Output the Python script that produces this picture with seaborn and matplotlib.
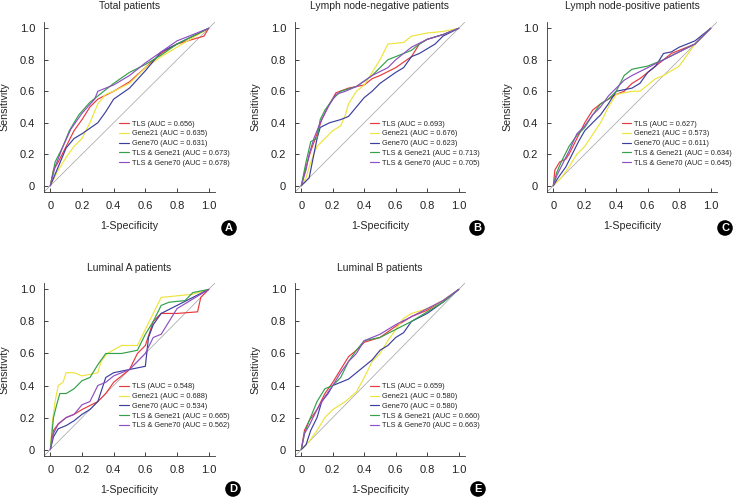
import seaborn as sns
import matplotlib.pyplot as plt
import pandas as pd

# ---------------- data ----------------
MODELS = ["TLS", "Gene21", "Gene70", "TLS & Gene21", "TLS & Gene70"]
COLORS = ["#e8383d", "#eee43c", "#3a3f9e", "#33a04a", "#8d4fc2"]
TICKS = [0, 0.2, 0.4, 0.6, 0.8, 1.0]
TICK_LABELS = ["0", "0.2", "0.4", "0.6", "0.8", "1.0"]

TITLES = ["Total patients", "Lymph node-negative patients", "Lymph node-positive patients",
          "Luminal A patients", "Luminal B patients"]
LETTERS = ["A", "B", "C", "D", "E"]

AUC_A = [0.656, 0.635, 0.631, 0.673, 0.678]
AUC_B = [0.693, 0.676, 0.623, 0.713, 0.705]
AUC_C = [0.627, 0.573, 0.611, 0.634, 0.645]
AUC_D = [0.548, 0.688, 0.534, 0.665, 0.562]
AUC_E = [0.659, 0.580, 0.580, 0.660, 0.663]

# panel A - total patients
A_TLS = [(0, 0), (0.02, 0.10), (0.05, 0.15), (0.10, 0.25), (0.15, 0.35), (0.20, 0.42), (0.25, 0.50),
         (0.30, 0.55), (0.40, 0.60), (0.50, 0.66), (0.60, 0.75), (0.70, 0.84), (0.80, 0.90), (0.90, 0.93),
         (0.97, 0.95), (1, 1)]
A_G21 = [(0, 0), (0.05, 0.10), (0.10, 0.18), (0.15, 0.25), (0.20, 0.30), (0.25, 0.40), (0.30, 0.52),
         (0.35, 0.58), (0.40, 0.60), (0.50, 0.65), (0.60, 0.75), (0.70, 0.82), (0.80, 0.88), (0.90, 0.94),
         (1, 1)]
A_G70 = [(0, 0), (0.05, 0.12), (0.10, 0.24), (0.15, 0.30), (0.20, 0.33), (0.30, 0.40), (0.35, 0.47),
         (0.40, 0.55), (0.50, 0.62), (0.60, 0.73), (0.70, 0.85), (0.80, 0.90), (0.90, 0.95), (1, 1)]
A_TG21 = [(0, 0), (0.03, 0.15), (0.08, 0.25), (0.12, 0.35), (0.18, 0.45), (0.25, 0.53), (0.30, 0.57),
          (0.40, 0.65), (0.50, 0.72), (0.60, 0.77), (0.70, 0.83), (0.80, 0.90), (0.90, 0.95), (1, 1)]
A_TG70 = [(0, 0), (0.03, 0.12), (0.08, 0.25), (0.13, 0.36), (0.20, 0.46), (0.28, 0.55), (0.30, 0.60),
          (0.40, 0.64), (0.50, 0.70), (0.60, 0.78), (0.70, 0.85), (0.80, 0.92), (0.90, 0.96), (1, 1)]

# panel B - lymph node-negative
B_TLS = [(0, 0), (0.03, 0.12), (0.06, 0.22), (0.10, 0.33), (0.13, 0.42), (0.18, 0.52), (0.22, 0.59),
         (0.30, 0.62), (0.40, 0.64), (0.45, 0.68), (0.50, 0.70), (0.60, 0.75), (0.70, 0.82), (0.75, 0.90),
         (0.80, 0.93), (0.90, 0.96), (1, 1)]
B_G21 = [(0, 0), (0.03, 0.05), (0.06, 0.15), (0.10, 0.25), (0.15, 0.30), (0.20, 0.35), (0.25, 0.38),
         (0.28, 0.45), (0.30, 0.52), (0.35, 0.60), (0.40, 0.64), (0.45, 0.72), (0.50, 0.80), (0.55, 0.90),
         (0.65, 0.91), (0.70, 0.95), (0.80, 0.97), (0.90, 0.98), (1, 1)]
B_G70 = [(0, 0), (0.05, 0.05), (0.08, 0.20), (0.10, 0.30), (0.12, 0.37), (0.18, 0.40), (0.25, 0.42),
         (0.30, 0.44), (0.35, 0.50), (0.40, 0.56), (0.45, 0.60), (0.50, 0.65), (0.60, 0.72), (0.65, 0.75),
         (0.70, 0.82), (0.75, 0.84), (0.80, 0.87), (0.85, 0.90), (0.90, 0.95), (1, 1)]
B_TG21 = [(0, 0), (0.03, 0.15), (0.06, 0.28), (0.10, 0.30), (0.12, 0.42), (0.15, 0.48), (0.20, 0.55),
          (0.25, 0.60), (0.35, 0.63), (0.45, 0.70), (0.55, 0.80), (0.60, 0.82), (0.70, 0.86), (0.75, 0.90),
          (0.80, 0.93), (0.90, 0.96), (1, 1)]
B_TG70 = [(0, 0), (0.03, 0.10), (0.05, 0.20), (0.08, 0.30), (0.12, 0.40), (0.17, 0.50), (0.22, 0.58),
          (0.28, 0.60), (0.35, 0.63), (0.45, 0.70), (0.55, 0.75), (0.60, 0.80), (0.70, 0.88), (0.80, 0.93),
          (0.90, 0.96), (1, 1)]

# panel C - lymph node-positive
C_TLS = [(0, 0), (0.01, 0.10), (0.04, 0.15), (0.08, 0.17), (0.10, 0.20), (0.15, 0.30), (0.20, 0.40),
         (0.25, 0.48), (0.30, 0.52), (0.35, 0.55), (0.40, 0.58), (0.45, 0.60), (0.50, 0.65), (0.55, 0.68),
         (0.60, 0.72), (0.70, 0.80), (0.75, 0.84), (0.80, 0.86), (0.90, 0.90), (1, 1)]
C_G21 = [(0, 0), (0.05, 0.05), (0.10, 0.12), (0.15, 0.20), (0.20, 0.25), (0.30, 0.40), (0.35, 0.50),
         (0.40, 0.58), (0.50, 0.60), (0.55, 0.60), (0.60, 0.64), (0.65, 0.68), (0.70, 0.70), (0.80, 0.76),
         (0.85, 0.83), (0.90, 0.90), (1, 1)]
C_G70 = [(0, 0), (0.03, 0.05), (0.08, 0.12), (0.12, 0.20), (0.16, 0.28), (0.20, 0.35), (0.25, 0.40),
         (0.30, 0.45), (0.35, 0.52), (0.40, 0.60), (0.50, 0.62), (0.55, 0.65), (0.60, 0.72), (0.65, 0.76),
         (0.70, 0.84), (0.75, 0.85), (0.80, 0.88), (0.85, 0.90), (0.90, 0.92), (1, 1)]
C_TG21 = [(0, 0), (0.02, 0.08), (0.05, 0.15), (0.10, 0.25), (0.15, 0.32), (0.20, 0.37), (0.25, 0.45),
          (0.30, 0.52), (0.35, 0.55), (0.40, 0.60), (0.45, 0.70), (0.50, 0.74), (0.55, 0.75), (0.60, 0.76),
          (0.70, 0.80), (0.80, 0.85), (0.90, 0.90), (1, 1)]
C_TG70 = [(0, 0), (0.02, 0.06), (0.05, 0.12), (0.10, 0.22), (0.15, 0.33), (0.20, 0.38), (0.25, 0.45),
          (0.30, 0.50), (0.35, 0.57), (0.40, 0.62), (0.45, 0.67), (0.50, 0.70), (0.60, 0.75), (0.70, 0.80),
          (0.80, 0.85), (0.90, 0.90), (1, 1)]

# panel D - luminal A
D_TLS = [(0, 0), (0.02, 0.12), (0.05, 0.16), (0.10, 0.20), (0.15, 0.22), (0.20, 0.25), (0.30, 0.30),
         (0.35, 0.35), (0.40, 0.42), (0.50, 0.50), (0.55, 0.60), (0.60, 0.65), (0.65, 0.80), (0.70, 0.85),
         (0.80, 0.85), (0.93, 0.86), (0.95, 0.95), (1, 1)]
D_G21 = [(0, 0), (0.01, 0.15), (0.03, 0.30), (0.05, 0.40), (0.08, 0.42), (0.10, 0.48), (0.15, 0.48),
         (0.20, 0.46), (0.30, 0.48), (0.32, 0.55), (0.36, 0.60), (0.45, 0.65), (0.55, 0.65), (0.60, 0.75),
         (0.65, 0.85), (0.70, 0.95), (0.80, 0.96), (0.90, 0.97), (1, 1)]
D_G70 = [(0, 0), (0.02, 0.08), (0.05, 0.13), (0.10, 0.15), (0.15, 0.18), (0.20, 0.22), (0.25, 0.25),
         (0.30, 0.30), (0.35, 0.45), (0.40, 0.48), (0.50, 0.50), (0.60, 0.52), (0.62, 0.70), (0.65, 0.78),
         (0.70, 0.85), (0.80, 0.90), (0.90, 0.95), (1, 1)]
D_TG21 = [(0, 0), (0.01, 0.10), (0.02, 0.20), (0.04, 0.28), (0.06, 0.35), (0.10, 0.35), (0.15, 0.38),
          (0.20, 0.43), (0.25, 0.45), (0.30, 0.53), (0.35, 0.60), (0.45, 0.60), (0.55, 0.62), (0.60, 0.72),
          (0.65, 0.80), (0.70, 0.90), (0.75, 0.92), (0.85, 0.93), (0.90, 0.98), (1, 1)]
D_TG70 = [(0, 0), (0.02, 0.10), (0.05, 0.16), (0.10, 0.20), (0.15, 0.22), (0.20, 0.28), (0.25, 0.30),
          (0.30, 0.40), (0.35, 0.42), (0.40, 0.46), (0.50, 0.50), (0.55, 0.55), (0.60, 0.60), (0.65, 0.70),
          (0.70, 0.72), (0.75, 0.80), (0.80, 0.88), (0.90, 0.94), (1, 1)]

# panel E - luminal B
E_TLS = [(0, 0), (0.02, 0.12), (0.05, 0.18), (0.10, 0.25), (0.15, 0.35), (0.20, 0.42), (0.25, 0.50),
         (0.30, 0.58), (0.35, 0.62), (0.40, 0.67), (0.50, 0.70), (0.60, 0.77), (0.70, 0.83), (0.80, 0.87),
         (0.90, 0.93), (1, 1)]
E_G21 = [(0, 0), (0.05, 0.05), (0.10, 0.12), (0.15, 0.20), (0.20, 0.25), (0.28, 0.30), (0.35, 0.36),
         (0.40, 0.45), (0.45, 0.55), (0.50, 0.60), (0.55, 0.68), (0.60, 0.75), (0.65, 0.82), (0.70, 0.85),
         (0.80, 0.88), (0.90, 0.93), (1, 1)]
E_G70 = [(0, 0), (0.03, 0.03), (0.06, 0.12), (0.10, 0.20), (0.13, 0.30), (0.17, 0.35), (0.20, 0.40),
         (0.30, 0.44), (0.35, 0.48), (0.40, 0.52), (0.45, 0.56), (0.50, 0.62), (0.55, 0.65), (0.60, 0.70),
         (0.65, 0.73), (0.70, 0.80), (0.80, 0.85), (0.90, 0.92), (1, 1)]
E_TG21 = [(0, 0), (0.02, 0.10), (0.05, 0.18), (0.10, 0.30), (0.15, 0.38), (0.20, 0.40), (0.25, 0.45),
          (0.30, 0.55), (0.35, 0.62), (0.40, 0.68), (0.50, 0.70), (0.60, 0.75), (0.70, 0.80), (0.80, 0.86),
          (0.90, 0.92), (1, 1)]
E_TG70 = [(0, 0), (0.02, 0.10), (0.05, 0.15), (0.10, 0.25), (0.15, 0.33), (0.20, 0.40), (0.25, 0.48),
          (0.30, 0.55), (0.35, 0.60), (0.40, 0.68), (0.50, 0.72), (0.60, 0.78), (0.70, 0.83), (0.80, 0.88),
          (0.90, 0.93), (1, 1)]

PANELS = [
    ([A_TLS, A_G21, A_G70, A_TG21, A_TG70], AUC_A),
    ([B_TLS, B_G21, B_G70, B_TG21, B_TG70], AUC_B),
    ([C_TLS, C_G21, C_G70, C_TG21, C_TG70], AUC_C),
    ([D_TLS, D_G21, D_G70, D_TG21, D_TG70], AUC_D),
    ([E_TLS, E_G21, E_G70, E_TG21, E_TG70], AUC_E),
]

# axes boxes in figure fractions (735 x 500 px)
BOXES = [
    [44 / 735, 308 / 500, 171 / 735, 170 / 500],
    [295 / 735, 308 / 500, 170 / 735, 170 / 500],
    [547 / 735, 308 / 500, 170 / 735, 170 / 500],
    [44 / 735, 44 / 500, 171 / 735, 173 / 500],
    [295 / 735, 44 / 500, 170 / 735, 173 / 500],
]
LETTER_POS = [(229, 228), (477, 228), (725, 228), (233, 489), (478, 489)]

# ---------------- style ----------------
sns.set_style("ticks")
plt.rcParams["font.family"] = ["Liberation Sans", "DejaVu Sans"]

fig = plt.figure(figsize=(7.35, 5.0), dpi=100)

for i, (curves, aucs) in enumerate(PANELS):
    ax = fig.add_axes(BOXES[i])

    rows = []
    for name, auc, pts in zip(MODELS, aucs, curves):
        label = f"{name} (AUC = {auc:.3f})"
        for order, (fpr, tpr) in enumerate(pts):
            rows.append({"fpr": fpr, "tpr": tpr, "model": label, "order": order})
    df = pd.DataFrame(rows)
    labels = list(dict.fromkeys(df["model"]))
    palette = dict(zip(labels, COLORS))

    ax.axline((0, 0), slope=1, color="#a0a0a0", lw=0.5, zorder=0)

    sns.lineplot(data=df, x="fpr", y="tpr", hue="model", hue_order=labels,
                 palette=palette, estimator=None, sort=False, lw=0.85,
                 legend=False, ax=ax)

    curve_lines = ax.lines[-len(labels):]
    ax.legend(curve_lines, labels, loc="upper left", bbox_to_anchor=(0.44, 0.42),
              frameon=False, fontsize=5.3, handlelength=1.3, handletextpad=0.4,
              labelspacing=0.35, borderpad=0, borderaxespad=0)

    ax.set_xlim(-0.04, 1.04)
    ax.set_ylim(-0.04, 1.04)
    ax.set_xticks(TICKS)
    ax.set_yticks(TICKS)
    ax.set_xticklabels(TICK_LABELS)
    ax.set_yticklabels(TICK_LABELS)
    ax.tick_params(direction="in", length=3, width=0.6, pad=6.5, labelsize=8, colors="#222222")
    for s in ["left", "bottom"]:
        ax.spines[s].set_linewidth(0.6)
        ax.spines[s].set_color("#333333")
    sns.despine(ax=ax)

    ax.set_xlabel("1-Specificity", fontsize=7.7, labelpad=7)
    ax.set_ylabel("Sensitivity", fontsize=7.7, labelpad=7)
    ax.set_title(TITLES[i], fontsize=7.5, pad=9.5 if i < 3 else 8.8)

    lx, ly = LETTER_POS[i]
    fig.text(lx / 735, 1 - ly / 500, LETTERS[i], color="white", fontsize=8, fontweight="bold",
             ha="center", va="center",
             bbox=dict(boxstyle="circle,pad=0.25", fc="black", ec="none"))

plt.savefig("out.png", dpi=100)
